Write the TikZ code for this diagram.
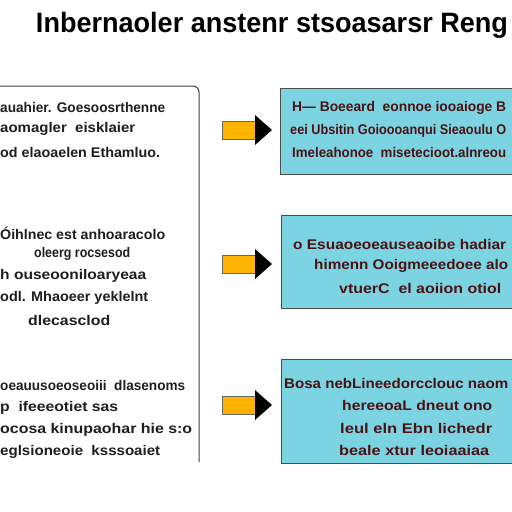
\documentclass[tikz,border=0pt]{standalone}
\usepackage{fontspec}
\setmainfont{Liberation Sans}
\usepackage{graphicx}
\newcommand\fitw[2]{\resizebox{#1}{\height}{#2}}
\definecolor{boxblue}{HTML}{7CD3E2}
\definecolor{arrorange}{HTML}{FFB400}
\definecolor{maroon}{HTML}{4A1212}
\definecolor{darktext}{HTML}{1E1E1E}
\begin{document}
\begin{tikzpicture}[x=1pt,y=-1pt,
  lt/.style={inner sep=0pt, text=darktext, font=\fontsize{14}{14}\selectfont\bfseries},
  rt/.style={inner sep=0pt, text=maroon, font=\fontsize{14}{14}\selectfont\bfseries},
  rbox/.style={draw=black!70, line width=1pt, fill=boxblue},
  arrbody/.style={draw=black!60, line width=0.8pt, fill=arrorange},
  arrtip/.style={fill=black}]
\useasboundingbox (0,0) rectangle (512,512);
\fill[white] (0,0) rectangle (512,512);
\begin{scope}
\clip (0,0) rectangle (512,512);
% title
\node[inner sep=0pt, font=\fontsize{28}{28}\selectfont\bfseries] (title) at (272,25) {\fitw{472pt}{Inbernaoler anstenr stsoasarsr Reng}};
% left panel
\draw[black!75, line width=1pt, rounded corners=6pt] (-3,86) -- (199,86) -- (199,462);
% panel 1 text
\node[lt, anchor=west] (l11) at (0,107) {\fitw{165pt}{auahier. Goesoosrthenne}};
\node[lt, anchor=west] (l12) at (0,129) {\fitw{135pt}{aomagler\ \ eisklaier}};
\node[lt, anchor=west] (l13) at (0,152) {\fitw{160pt}{od elaoaelen Ethamluo.}};
% panel 2 text
\node[lt, anchor=west] (l21) at (0,233) {\fitw{165pt}{Óihlnec est anhoaracolo}};
\node[lt, anchor=west] (l22) at (34,254) {\fitw{96pt}{oleerg rocsesod}};
\node[lt, anchor=west] (l23) at (0,276) {\fitw{146pt}{h ouseooniloaryeaa}};
\node[lt, anchor=west] (l24) at (0,298) {\fitw{148pt}{odl. Mhaoeer yeklelnt}};
\node[lt, anchor=west] (l25) at (28,320) {\fitw{82pt}{dlecasclod}};
% panel 3 text
\node[lt, anchor=west] (l31) at (0,385) {\fitw{185pt}{oeauusoeoseoiii\ \ dlasenoms}};
\node[lt, anchor=west] (l32) at (0,408) {\fitw{118pt}{p\ \ ifeeeotiet sas}};
\node[lt, anchor=west] (l33) at (0,430) {\fitw{192pt}{ocosa kinupaohar hie s:o}};
\node[lt, anchor=west] (l34) at (0,452) {\fitw{160pt}{eglsioneoie\ \ ksssoaiet}};
% right boxes
\draw[rbox] (280,88) rectangle (516,174);
\draw[rbox] (281,215) rectangle (516,308);
\draw[rbox] (281,359) rectangle (516,463);
\node[rt, anchor=west] (r11) at (292,108) {\fitw{214pt}{H— Boeeard\ \ eonnoe iooaioge B}};
\node[rt, anchor=west] (r12) at (290,131) {\fitw{216pt}{eei Ubsitin Goioooanqui Sieaoulu O}};
\node[rt, anchor=west] (r13) at (292,152) {\fitw{214pt}{Imeleahonoe\ \ misetecioot.alnreou}};
\node[rt, anchor=west] (r21) at (293,244) {\fitw{213pt}{o Esuaoeoeauseaoibe hadiar}};
\node[rt, anchor=west] (r22) at (314,266) {\fitw{194pt}{himenn Ooigmeeedoee alo}};
\node[rt, anchor=west] (r23) at (339,288) {\fitw{162pt}{vtuerC\ \ el aoiion otiol}};
\node[rt, anchor=west] (r31) at (284,383) {\fitw{224pt}{Bosa nebLineedorcclouc naom}};
\node[rt, anchor=west] (r32) at (342,405) {\fitw{150pt}{hereeoaL dneut ono}};
\node[rt, anchor=west] (r33) at (340,428) {\fitw{152pt}{leul eln Ebn lichedr}};
\node[rt, anchor=west] (r34) at (339,450) {\fitw{150pt}{beale xtur leoiaaiaa}};
% arrows
\foreach \yy in {130,264,405}{
  \draw[arrbody] (222,\yy-9) rectangle (256,\yy+9);
  \fill[arrtip] (255,\yy-15) -- (272,\yy) -- (255,\yy+15) -- cycle;
}
\end{scope}
\end{tikzpicture}
\end{document}
